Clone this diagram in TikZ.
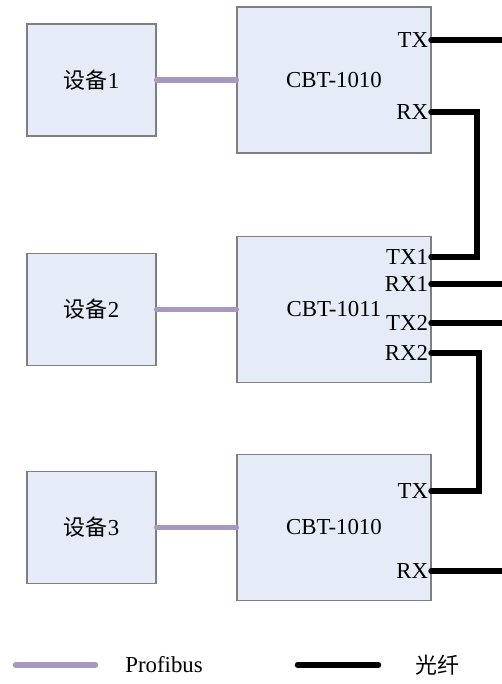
\documentclass[tikz,border=0pt]{standalone}
\usepackage{fontspec}
\setmainfont{Liberation Serif}
\newfontfamily\cjk{Noto Sans CJK SC}
\usetikzlibrary{positioning}
\definecolor{boxfill}{HTML}{E6ECF7}
\definecolor{boxline}{HTML}{7F7F7F}
\definecolor{pbline}{HTML}{A898C2}
\tikzstyle{dev}=[draw=boxline,fill=boxfill,line width=0.75pt,minimum width=2.58cm,minimum height=2.24cm,inner sep=0]
\tikzstyle{cbt}=[dev,minimum width=3.88cm,minimum height=2.92cm]
\tikzstyle{pb}=[draw=pbline,line width=3.1pt,line cap=round]
\tikzstyle{fiber}=[draw=black,line width=3.1pt,line cap=round]
\tikzstyle{port}=[anchor=east,inner sep=1.5pt]
\begin{document}
\begin{tikzpicture}[x=0.02cm,y=-0.02cm,font=\fontsize{13}{15}\selectfont]
\useasboundingbox (0,0) rectangle (502,684);
% devices and converters
\node[dev] (D1) at (91.5,80) {{\cjk\fontsize{12.5}{14}\selectfont 设备}1};
\node[dev] (D2) at (91.5,309.5) {{\cjk\fontsize{12.5}{14}\selectfont 设备}2};
\node[dev] (D3) at (91.5,527.5) {{\cjk\fontsize{12.5}{14}\selectfont 设备}3};
\node[cbt] (C1) at (334,80) {CBT-1010};
\node[cbt] (C2) at (334,309.5) {CBT-1011};
\node[cbt] (C3) at (334,527.5) {CBT-1010};
% profibus
\draw[pb](D1.east)--(C1.west);
\draw[pb](D2.east)--(C2.west);
\draw[pb](D3.east)--(C3.west);
% ports
\coordinate (T1) at (431,40);
\coordinate (R1) at (431,112);
\coordinate (T21) at (431,257);
\coordinate (R21) at (431,284);
\coordinate (T22) at (431,323);
\coordinate (R22) at (431,353);
\coordinate (T3) at (431,491);
\coordinate (R3) at (431,571);
\node at (T1)[port]{TX};
\node at (R1)[port]{RX};
\node at (T21)[port]{TX1};
\node at (R21)[port]{RX1};
\node at (T22)[port]{TX2};
\node at (R22)[port]{RX2};
\node at (T3)[port]{TX};
\node at (R3)[port]{RX};
% fibre
\coordinate (E1) at (502,40);
\coordinate (E2) at (502,284);
\coordinate (E3) at (502,323);
\coordinate (E4) at (502,571);
\coordinate (B1) at (477,257);
\coordinate (B2) at (479,491);
\draw[fiber](T1)--(E1);
\draw[fiber](R1)-|(B1)--(T21);
\draw[fiber](R21)--(E2);
\draw[fiber](T22)--(E3);
\draw[fiber](R22)-|(B2)--(T3);
\draw[fiber](R3)--(E4);
% legend
\coordinate (L1) at (15.5,665);
\coordinate (L2) at (95.5,665);
\coordinate (L3) at (297.5,665);
\coordinate (L4) at (378.5,665);
\draw[pb](L1)--(L2);
\draw[fiber](L3)--(L4);
\node at (125,665)[anchor=west,inner sep=0]{Profibus};
\node at (415,665)[anchor=west,inner sep=0]{\cjk\fontsize{12.5}{14}\selectfont 光纤};
\end{tikzpicture}
\end{document}
